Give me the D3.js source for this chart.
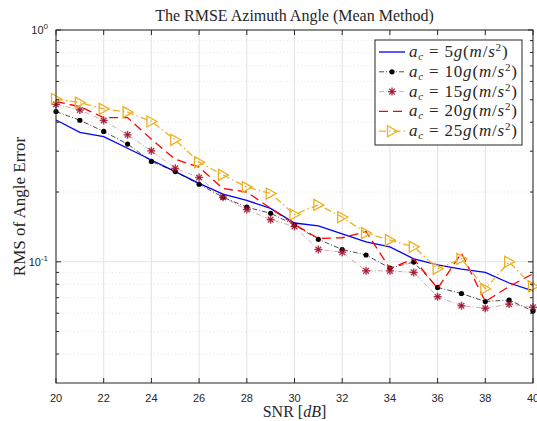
<!DOCTYPE html>
<html>
<head>
<meta charset="utf-8">
<script src="https://cdn.jsdelivr.net/npm/d3@7"></script>
<style>
  body { margin: 0; background: #fff; }
  .tick-label { font-family: "Liberation Sans", Arial, sans-serif; font-size: 11px; fill: #262626; }
  .serif { font-family: "Liberation Serif", "DejaVu Serif", serif; fill: #262626; }
</style>
</head>
<body>
<div id="chart"></div>
<script>
// SNR values (dB)
var snr = [20, 21, 22, 23, 24, 25, 26, 27, 28, 29, 30, 31, 32, 33, 34, 35, 36, 37, 38, 39, 40];

// RMS error per acceleration level
var rms5g  = [0.409, 0.362, 0.347, 0.309, 0.275, 0.245, 0.218, 0.196, 0.184, 0.170, 0.147, 0.143, 0.132, 0.122, 0.116, 0.103, 0.097, 0.093, 0.090, 0.081, 0.075];
var rms10g = [0.445, 0.408, 0.365, 0.322, 0.271, 0.245, 0.216, 0.190, 0.172, 0.162, 0.144, 0.125, 0.113, 0.107, 0.094, 0.0997, 0.0775, 0.073, 0.0674, 0.0684, 0.0613];
var rms15g = [0.478, 0.452, 0.407, 0.353, 0.301, 0.253, 0.231, 0.190, 0.168, 0.152, 0.142, 0.113, 0.110, 0.0914, 0.0914, 0.090, 0.0707, 0.0646, 0.063, 0.0657, 0.0636];
var rms20g = [0.491, 0.467, 0.419, 0.419, 0.338, 0.277, 0.256, 0.207, 0.200, 0.170, 0.145, 0.126, 0.127, 0.135, 0.0936, 0.103, 0.0767, 0.109, 0.0674, 0.0783, 0.0888];
var rms25g = [0.504, 0.486, 0.457, 0.442, 0.403, 0.336, 0.269, 0.237, 0.210, 0.197, 0.160, 0.176, 0.156, 0.133, 0.124, 0.116, 0.0933, 0.103, 0.0765, 0.100, 0.0783];

var seriesNames = ["5g", "10g", "15g", "20g", "25g"];
var xTicks = [20, 22, 24, 26, 28, 30, 32, 34, 36, 38, 40];
var yMajor = [0.1, 1];
var yMinor = [0.04, 0.05, 0.06, 0.07, 0.08, 0.09, 0.2, 0.3, 0.4, 0.5, 0.6, 0.7, 0.8, 0.9];

var width = 537, height = 421;
var margin = {top: 30, right: 4, bottom: 38, left: 56};
var plotW = width - margin.left - margin.right;
var plotH = height - margin.top - margin.bottom;

var svg = d3.select("#chart").append("svg")
    .attr("width", width)
    .attr("height", height);

var x = d3.scaleLinear().domain([20, 40]).range([0, plotW]);
var y = d3.scaleLog().domain([0.03, 1]).range([plotH, 0]);

var g = svg.append("g").attr("transform", "translate(" + margin.left + "," + margin.top + ")");

// grid
g.selectAll("line.vgrid").data(xTicks).enter().append("line")
    .attr("x1", function(d) { return x(d); })
    .attr("x2", function(d) { return x(d); })
    .attr("y1", 0).attr("y2", plotH)
    .attr("stroke", "#e3e3e3").attr("stroke-width", 1);

g.selectAll("line.hminor").data(yMinor).enter().append("line")
    .attr("x1", 0).attr("x2", plotW)
    .attr("y1", function(d) { return y(d); })
    .attr("y2", function(d) { return y(d); })
    .attr("stroke", "#dcdcdc").attr("stroke-width", 0.8)
    .attr("stroke-dasharray", "1,2.5");

g.selectAll("line.hmajor").data(yMajor).enter().append("line")
    .attr("x1", 0).attr("x2", plotW)
    .attr("y1", function(d) { return y(d); })
    .attr("y2", function(d) { return y(d); })
    .attr("stroke", "#e3e3e3").attr("stroke-width", 1);

// series
var series = [
    {data: rms5g,  color: "#0000ff", width: 1.3, dash: null,        marker: null},
    {data: rms10g, color: "#000000", width: 0.7, dash: "5,2,1,2",   marker: "dot"},
    {data: rms15g, color: "#a2142f", width: 0.7, dash: "5,2,1,2",   marker: "star", lineOpacity: 0.55},
    {data: rms20g, color: "#ff0000", width: 1.3, dash: "9,5",       marker: null},
    {data: rms25g, color: "#edb120", width: 1.3, dash: "7,3,1.5,3", marker: "tri"}
];

var line = d3.line()
    .x(function(d, i) { return x(snr[i]); })
    .y(function(d) { return y(d); });

function drawMarker(sel, type, color) {
    if (type == "dot") {
        sel.append("circle").attr("r", 2.6).attr("fill", color);
    }
    else if (type == "star") {
        var s = 4;
        var pts = [[-s, 0, s, 0], [0, -s, 0, s], [-s*0.7, -s*0.7, s*0.7, s*0.7], [-s*0.7, s*0.7, s*0.7, -s*0.7]];
        pts.forEach(function(p) {
            sel.append("line")
                .attr("x1", p[0]).attr("y1", p[1]).attr("x2", p[2]).attr("y2", p[3])
                .attr("stroke", color).attr("stroke-width", 1.4).attr("opacity", 0.85);
        });
    }
    else if (type == "tri") {
        sel.append("path")
            .attr("d", "M-4.5,-5.5 L5.5,0 L-4.5,5.5 Z")
            .attr("fill", "none").attr("stroke", color).attr("stroke-width", 1.3);
    }
}

series.forEach(function(s) {
    g.append("path")
        .datum(s.data)
        .attr("d", line)
        .attr("fill", "none")
        .attr("stroke", s.color)
        .attr("stroke-width", s.width)
        .attr("stroke-opacity", s.lineOpacity || 1)
        .attr("stroke-dasharray", s.dash);

    if (s.marker) {
        g.selectAll(null).data(s.data).enter().append("g")
            .attr("transform", function(d, i) { return "translate(" + x(snr[i]) + "," + y(d) + ")"; })
            .each(function() { drawMarker(d3.select(this), s.marker, s.color); });
    }
});

// axes box
g.append("rect")
    .attr("width", plotW).attr("height", plotH)
    .attr("fill", "none").attr("stroke", "#262626").attr("stroke-width", 1);

// x ticks (inward, bottom and top)
xTicks.forEach(function(t) {
    g.append("line").attr("x1", x(t)).attr("x2", x(t)).attr("y1", plotH).attr("y2", plotH - 5)
        .attr("stroke", "#262626");
    g.append("line").attr("x1", x(t)).attr("x2", x(t)).attr("y1", 0).attr("y2", 5)
        .attr("stroke", "#262626");
    g.append("text").attr("class", "tick-label")
        .attr("x", x(t)).attr("y", plotH + 19)
        .attr("text-anchor", "middle")
        .text(t);
});

// y ticks (inward, left and right)
yMajor.forEach(function(t) {
    g.append("line").attr("x1", 0).attr("x2", 5).attr("y1", y(t)).attr("y2", y(t)).attr("stroke", "#262626");
    g.append("line").attr("x1", plotW).attr("x2", plotW - 5).attr("y1", y(t)).attr("y2", y(t)).attr("stroke", "#262626");
    var lbl = g.append("text").attr("class", "tick-label")
        .attr("x", -8).attr("y", y(t) + 4)
        .attr("text-anchor", "end");
    lbl.append("tspan").text("10");
    lbl.append("tspan").attr("dy", -5).attr("font-size", "8px").text(Math.round(Math.log10(t)) == 0 ? "0" : "-1");
});
yMinor.forEach(function(t) {
    g.append("line").attr("x1", 0).attr("x2", 3).attr("y1", y(t)).attr("y2", y(t)).attr("stroke", "#262626");
    g.append("line").attr("x1", plotW).attr("x2", plotW - 3).attr("y1", y(t)).attr("y2", y(t)).attr("stroke", "#262626");
});

// title and labels
svg.append("text").attr("class", "serif")
    .attr("x", margin.left + plotW / 2).attr("y", 21)
    .attr("text-anchor", "middle").attr("font-size", "16px")
    .text("The RMSE Azimuth Angle (Mean Method)");

var xl = svg.append("text").attr("class", "serif")
    .attr("x", margin.left + plotW / 2).attr("y", 417)
    .attr("text-anchor", "middle").attr("font-size", "16px");
xl.append("tspan").text("SNR [");
xl.append("tspan").attr("font-style", "italic").text("dB");
xl.append("tspan").text("]");

svg.append("text").attr("class", "serif")
    .attr("transform", "translate(25," + (margin.top + plotH / 2) + ") rotate(-90)")
    .attr("text-anchor", "middle").attr("font-size", "17px")
    .text("RMS of Angle Error");

// legend
var legend = svg.append("g").attr("transform", "translate(375,40)");
legend.append("rect")
    .attr("width", 147).attr("height", 105)
    .attr("fill", "#fff").attr("stroke", "#262626").attr("stroke-width", 1);

series.forEach(function(s, i) {
    var ly = 12 + i * 19.8;
    legend.append("line")
        .attr("x1", 4).attr("x2", 30).attr("y1", ly).attr("y2", ly)
        .attr("stroke", s.color).attr("stroke-width", s.width)
        .attr("stroke-opacity", s.lineOpacity || 1)
        .attr("stroke-dasharray", s.dash);
    if (s.marker) {
        var m = legend.append("g").attr("transform", "translate(17," + ly + ")");
        drawMarker(m, s.marker, s.color);
    }
    var t = legend.append("text").attr("class", "serif")
        .attr("x", 34).attr("y", ly + 5).attr("font-size", "17px")
        .attr("letter-spacing", "0.8px");
    t.append("tspan").attr("font-style", "italic").text("a");
    t.append("tspan").attr("font-style", "italic").attr("font-size", "11px").attr("dy", 3).text("c");
    t.append("tspan").attr("dy", -3).text(" = " + seriesNames[i].replace("g", ""));
    t.append("tspan").attr("font-style", "italic").text("g");
    t.append("tspan").text("(");
    t.append("tspan").attr("font-style", "italic").text("m");
    t.append("tspan").text("/");
    t.append("tspan").attr("font-style", "italic").text("s");
    t.append("tspan").attr("font-size", "11px").attr("dy", -6).text("2");
    t.append("tspan").attr("dy", 6).text(")");
});
</script>
</body>
</html>
